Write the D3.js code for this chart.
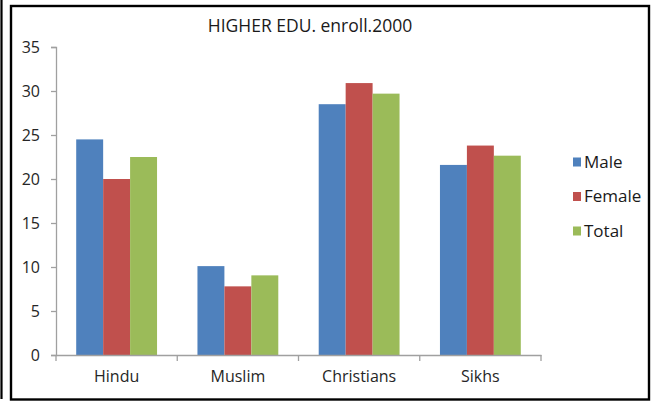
<!DOCTYPE html>
<html>
<head>
<meta charset="utf-8">
<script src="https://cdn.jsdelivr.net/npm/d3@7"></script>
<style>
  html, body { margin: 0; padding: 0; background: #fff; }
  svg { display: block; }
  text { font-family: "Open Sans", sans-serif; }
</style>
</head>
<body>
<svg id="chart" width="651" height="401"></svg>
<script>
// Higher education enrollment, 2000, by community
const categories = ["Hindu", "Muslim", "Christians", "Sikhs"];
const seriesNames = ["Male", "Female", "Total"];
const maleValues = [24.5, 10.1, 28.5, 21.6];
const femaleValues = [20.0, 7.8, 30.9, 23.8];
const totalValues = [22.5, 9.05, 29.7, 22.65];
const yTicks = [0, 5, 10, 15, 20, 25, 30, 35];
const title = "HIGHER EDU. enroll.2000";

const seriesColors = ["#4F81BD", "#C0504D", "#9BBB59"];
const seriesValues = [maleValues, femaleValues, totalValues];
const FONT = "'Open Sans', sans-serif";

const svg = d3.select("#chart");

// outer frame lines
svg.append("line")
  .attr("x1", 1.5).attr("x2", 1.5).attr("y1", 0).attr("y2", 399)
  .attr("stroke", "#000").attr("stroke-width", 2.2);
svg.append("rect")
  .attr("x", 11).attr("y", 6).attr("width", 638).attr("height", 393.5)
  .attr("fill", "#fff").attr("stroke", "#000").attr("stroke-width", 2.4);

const plot = { left: 56, right: 541, top: 47, bottom: 355 };

const y = d3.scaleLinear().domain([0, 35]).range([plot.bottom, plot.top]);

const rows = categories.map((c, i) => ({
  category: c,
  values: seriesNames.map((s, j) => ({ series: s, index: j, value: seriesValues[j][i] }))
}));

// one slot per category; the three bars fill 3/4.5 of it (gap = 1.5 bar widths)
const slot = d3.scaleBand().domain(categories).range([plot.left, plot.right]);
const groupW = slot.bandwidth() * (3 / 4.5);
const x1 = d3.scaleBand().domain(seriesNames).range([0, groupW]);

const groups = svg.append("g").selectAll("g")
  .data(rows).join("g")
  .attr("transform", d => `translate(${slot(d.category) + (slot.bandwidth() - groupW) / 2},0)`);

groups.selectAll("rect")
  .data(d => d.values).join("rect")
  .attr("x", d => x1(d.series))
  .attr("width", x1.bandwidth())
  .attr("y", d => y(d.value))
  .attr("height", d => y(0) - y(d.value))
  .attr("fill", d => seriesColors[d.index]);

// y axis
const yAxis = d3.axisLeft(y).tickValues(yTicks).tickSize(5).tickPadding(11);
const gy = svg.append("g").attr("transform", `translate(${plot.left},0)`).call(yAxis);
gy.select(".domain").attr("stroke", "#A0A0A0").attr("stroke-width", 1.3);
gy.selectAll(".tick line").attr("stroke", "#A0A0A0").attr("stroke-width", 1.3);
gy.selectAll(".tick text")
  .attr("fill", "#262626").attr("font-size", 16).attr("font-family", FONT);

// x axis
const xAxis = d3.axisBottom(slot).tickSize(0).tickPadding(16);
const gx = svg.append("g").attr("transform", `translate(0,${plot.bottom})`).call(xAxis);
gx.select(".domain").attr("stroke", "#A0A0A0").attr("stroke-width", 1.3);
gx.selectAll(".tick text")
  .attr("fill", "#262626").attr("font-size", 16).attr("font-family", FONT);

// category separator ticks
const sepTicks = categories.map(c => slot(c)).concat([plot.right]);
svg.append("g").selectAll("line")
  .data(sepTicks).join("line")
  .attr("x1", d => d).attr("x2", d => d)
  .attr("y1", plot.bottom).attr("y2", plot.bottom + 6)
  .attr("stroke", "#A0A0A0").attr("stroke-width", 1.3);

// title
svg.append("text")
  .attr("x", 310).attr("y", 32)
  .attr("text-anchor", "middle")
  .attr("font-size", 17.5)
  .attr("fill", "#1a1a1a")
  .text(title);

// legend
const legend = svg.append("g").selectAll("g")
  .data(seriesNames).join("g")
  .attr("transform", (d, i) => `translate(573,${162 + i * 34.5})`);
legend.append("rect")
  .attr("x", 0).attr("y", -4.5).attr("width", 8).attr("height", 9)
  .attr("fill", (d, i) => seriesColors[i]);
legend.append("text")
  .attr("x", 11).attr("y", 0).attr("dy", "0.35em")
  .attr("font-size", 17).attr("fill", "#1a1a1a")
  .text(d => d);
</script>
</body>
</html>
